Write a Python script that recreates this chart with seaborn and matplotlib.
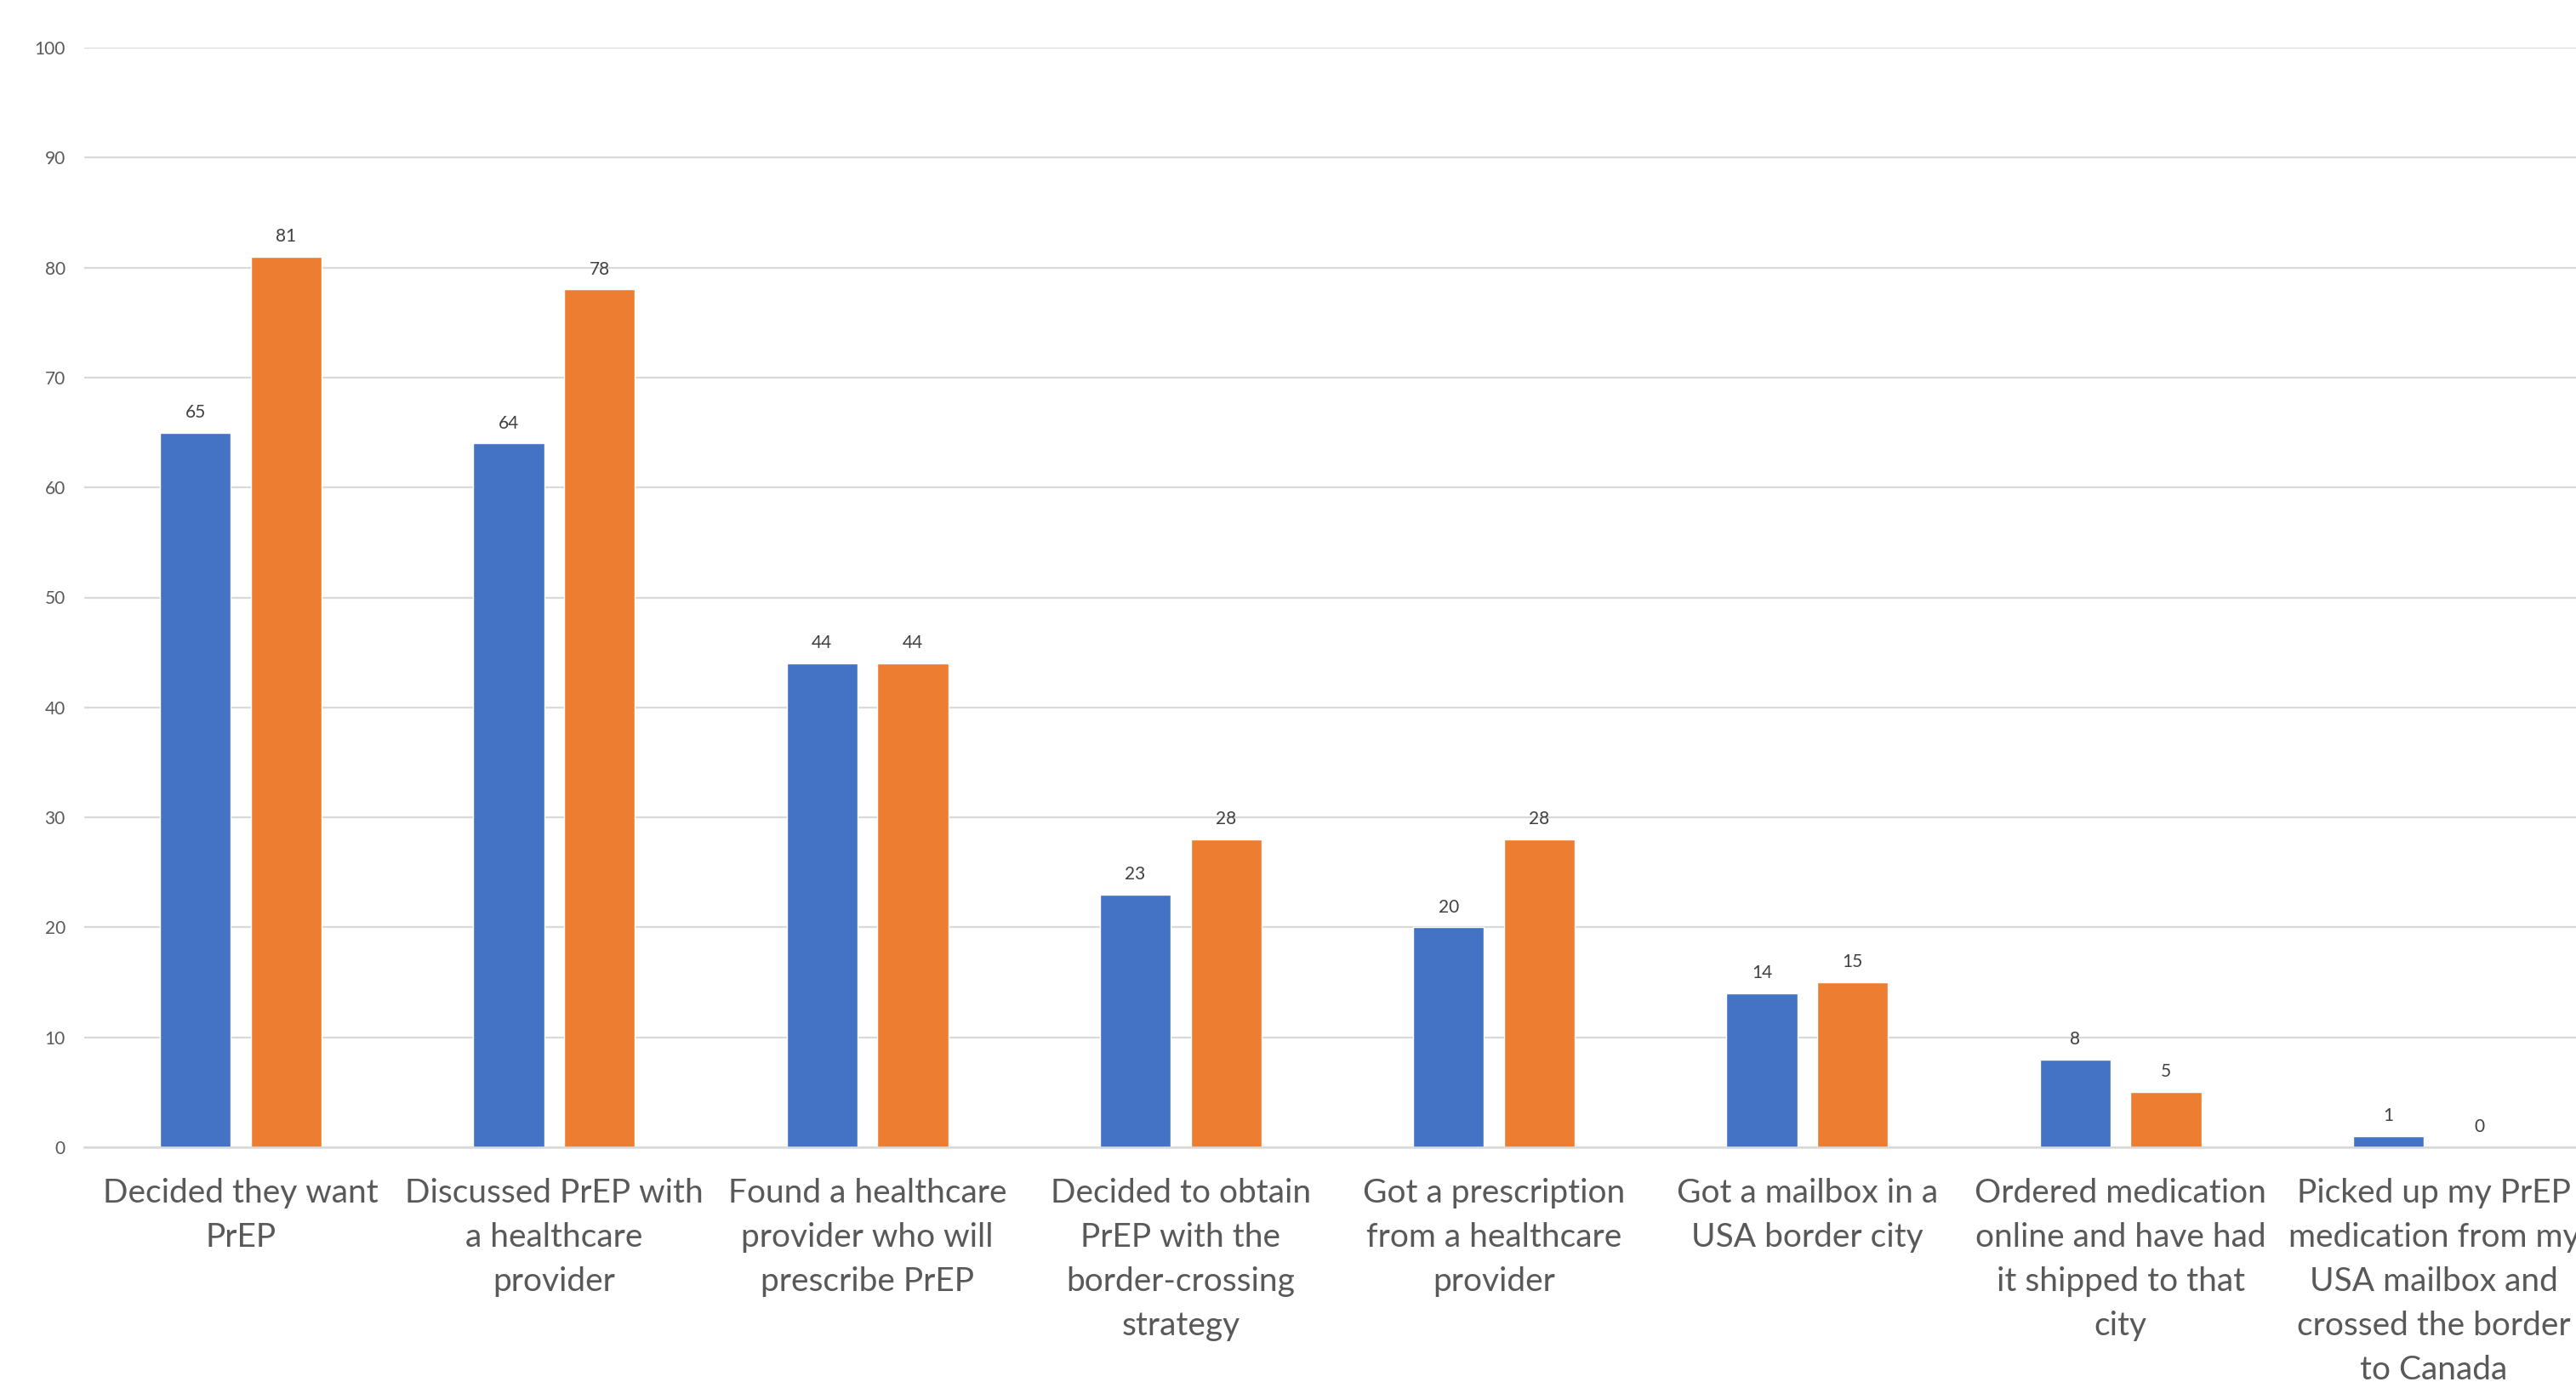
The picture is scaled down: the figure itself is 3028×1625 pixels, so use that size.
import matplotlib
matplotlib.use('Agg')
import matplotlib.pyplot as plt
import seaborn as sns
import pandas as pd

# Steps of the PrEP border-crossing cascade
steps = [
    "Decided they want\nPrEP",
    "Discussed PrEP with\na healthcare\nprovider",
    "Found a healthcare\nprovider who will\nprescribe PrEP",
    "Decided to obtain\nPrEP with the\nborder-crossing\nstrategy",
    "Got a prescription\nfrom a healthcare\nprovider",
    "Got a mailbox in a\nUSA border city",
    "Ordered medication\nonline and have had\nit shipped to that\ncity",
    "Picked up my PrEP\nmedication from my\nUSA mailbox and\ncrossed the border\nto Canada",
]
series_1 = [65, 64, 44, 23, 20, 14, 8, 1]
series_2 = [81, 78, 44, 28, 28, 15, 5, 0]
series_names = ["Series 1", "Series 2"]
y_ticks = list(range(0, 101, 10))

df = pd.DataFrame({
    'step': steps * 2,
    'value': series_1 + series_2,
    'series': [series_names[0]] * len(steps) + [series_names[1]] * len(steps),
})

sns.set_style("white")
plt.rcParams['font.family'] = ['Lato', 'DejaVu Sans']

fig = plt.figure(figsize=(30.28, 16.25), dpi=100)
ax = fig.add_axes([99 / 3028, 1 - 1349 / 1625, (3045 - 99) / 3028, (1349 - 56) / 1625])

sns.barplot(data=df, x='step', y='value', hue='series',
            palette=['#4472C4', '#ED7D31'], width=0.58, gap=0.22,
            legend=False, ax=ax, saturation=1, zorder=3)

ax.set_xlim(-0.5, len(steps) - 0.5)
ax.set_ylim(0, 100)
ax.set_yticks(y_ticks)
ax.yaxis.grid(True, color='#D9D9D9', linewidth=1.6, zorder=0)
ax.set_axisbelow(True)
for side in ['top', 'right', 'left']:
    ax.spines[side].set_visible(False)
ax.spines['bottom'].set_color('#D9D9D9')
ax.spines['bottom'].set_linewidth(1.8)
ax.spines['bottom'].set_zorder(4)

ax.set_xlabel('')
ax.set_ylabel('')
ax.tick_params(axis='y', length=0, pad=16, labelsize=15, labelcolor='#595959')
ax.tick_params(axis='x', length=0, pad=26, labelsize=28, labelcolor='#595959')
for lbl in ax.get_xticklabels():
    lbl.set_linespacing(1.55)

for cont in ax.containers:
    ax.bar_label(cont, fmt='%d', padding=10, fontsize=15, color='#404040')

fig.savefig('out.png', dpi=100)
plt.close()
